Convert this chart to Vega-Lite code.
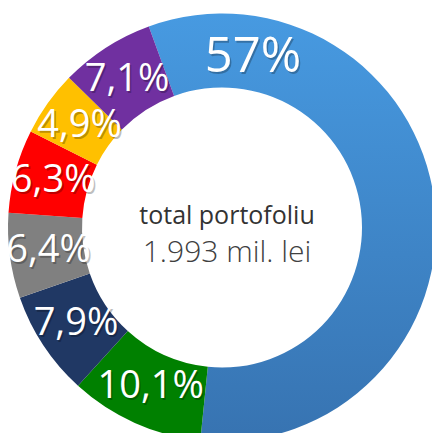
{
  "$schema": "https://vega.github.io/schema/vega-lite/v6.json",
  "width": 420,
  "height": 411,
  "autosize": {"type": "none"},
  "padding": {"left": 12, "top": 22, "right": 0, "bottom": 0},
  "background": "white",
  "config": {
    "view": {"stroke": null},
    "locale": {"number": {"decimal": ",", "thousands": ".", "grouping": [3], "currency": ["", ""]}}
  },
  "datasets": {
    "parts": [
      {"segment": "A", "ord": 1, "share": 0.57},
      {"segment": "B", "ord": 2, "share": 0.101},
      {"segment": "C", "ord": 3, "share": 0.079},
      {"segment": "D", "ord": 4, "share": 0.064},
      {"segment": "E", "ord": 5, "share": 0.063},
      {"segment": "F", "ord": 6, "share": 0.049},
      {"segment": "G", "ord": 7, "share": 0.071}
    ]
  },
  "data": {"name": "parts"},
  "layer": [
    {
      "mark": {"type": "arc", "outerRadius": 214, "innerRadius": 140, "strokeWidth": 0},
      "encoding": {
        "theta": {"field": "share", "type": "quantitative", "stack": true, "scale": {"range": [-0.3491, 5.9341]}},
        "order": {"field": "ord", "type": "quantitative"},
        "color": {
          "condition": {
            "test": "datum.segment === 'A'",
            "value": {"gradient": "linear", "x1": 0, "y1": 0, "x2": 0, "y2": 1,
              "stops": [{"offset": 0, "color": "#479ae1"}, {"offset": 1, "color": "#3773b1"}]}
          },
          "field": "segment",
          "type": "nominal",
          "scale": {"domain": ["A", "B", "C", "D", "E", "F", "G"],
                    "range": ["#4699df", "#008000", "#203864", "#808080", "#ff0000", "#ffc000", "#7030a0"]},
          "legend": null
        }
      }
    },
    {
      "mark": {"type": "text", "radius": 175, "font": "Open Sans", "fontSize": 38, "fill": "#000000", "opacity": 0.25, "dx": 1.5, "dy": 2, "align": "center", "baseline": "middle"},
      "encoding": {
        "theta": {"field": "share", "type": "quantitative", "stack": true},
        "order": {"field": "ord", "type": "quantitative"},
        "text": {"condition": {"test": "datum.ord === 1", "value": ""}, "field": "share", "type": "quantitative", "format": ".1~%"}
      }
    },
    {
      "mark": {"type": "text", "radius": 175, "font": "Open Sans", "fontSize": 38, "fill": "#ffffff", "align": "center", "baseline": "middle"},
      "encoding": {
        "theta": {"field": "share", "type": "quantitative", "stack": true},
        "order": {"field": "ord", "type": "quantitative"},
        "text": {"condition": {"test": "datum.ord === 1", "value": ""}, "field": "share", "type": "quantitative", "format": ".1~%"}
      }
    },
    {
      "transform": [{"filter": "datum.ord === 1"}],
      "mark": {"type": "text", "radius": 173, "font": "Open Sans", "fontSize": 49, "fill": "#000000", "opacity": 0.25, "dx": 1.5, "dy": 2, "align": "center", "baseline": "middle"},
      "encoding": {
        "theta": {"value": 0.18},
        "text": {"field": "share", "type": "quantitative", "format": ".1~%"}
      }
    },
    {
      "transform": [{"filter": "datum.ord === 1"}],
      "mark": {"type": "text", "radius": 173, "font": "Open Sans", "fontSize": 49, "fill": "#ffffff", "align": "center", "baseline": "middle"},
      "encoding": {
        "theta": {"value": 0.18},
        "text": {"field": "share", "type": "quantitative", "format": ".1~%"}
      }
    },
    {
      "data": {"values": [{"line": "total portofoliu"}]},
      "mark": {"type": "text", "font": "Open Sans", "fontSize": 25, "fill": "#333333", "align": "center", "baseline": "alphabetic", "dx": 5, "dy": -3.5},
      "encoding": {"text": {"field": "line", "type": "nominal"}}
    },
    {
      "data": {"values": [{"line": "1.993 mil. lei"}]},
      "mark": {"type": "text", "font": "Open Sans", "fontSize": 30, "fontWeight": 300, "fill": "#404040", "align": "center", "baseline": "alphabetic", "dx": 5, "dy": 34.5},
      "encoding": {"text": {"field": "line", "type": "nominal"}}
    }
  ]
}
